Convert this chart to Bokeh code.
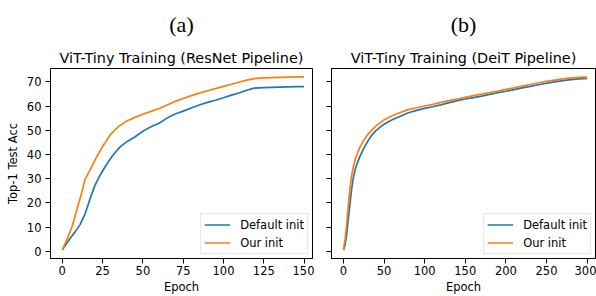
from bokeh.plotting import figure
from bokeh.models import Range1d, FixedTicker, Title, Legend, LegendItem
from bokeh.layouts import row
from bokeh.embed import file_html
from bokeh.resources import INLINE

panel_labels = ["(a)", "(b)"]
panel_titles = ["ViT-Tiny Training (ResNet Pipeline)", "ViT-Tiny Training (DeiT Pipeline)"]
series_names = ["Default init", "Our init"]
x_label = "Epoch"
y_label = "Top-1 Test Acc"
y_ticks = [0, 10, 20, 30, 40, 50, 60, 70]
resnet_x_ticks = [0, 25, 50, 75, 100, 125, 150]
deit_x_ticks = [0, 50, 100, 150, 200, 250, 300]

# (a) ResNet pipeline
resnet_default_epoch = [0, 3, 5, 8, 11, 14, 17, 20, 23, 26, 29, 32, 36, 40, 45, 50, 55, 60, 65,
                        70, 75, 80, 85, 90, 95, 100, 105, 110, 115, 119, 122, 125, 130, 135, 140, 145, 150]
resnet_default_acc = [0.5, 3.5, 5.5, 8.0, 11.0, 15.2, 21.2, 26.8, 30.8, 34.3, 37.4, 40.2, 43.2, 45.2, 47.2,
                      49.6, 51.4, 52.9, 55.0, 56.7, 57.9, 59.2, 60.4, 61.5, 62.4, 63.4, 64.5, 65.5, 66.6,
                      67.4, 67.5, 67.6, 67.7, 67.8, 67.9, 68.0, 68.0]
resnet_ours_epoch = [0, 3, 6, 9, 12, 14, 17, 20, 25, 30, 35, 40, 45, 50, 55, 60, 65, 70, 75, 80,
                     85, 90, 95, 100, 105, 110, 115, 120, 125, 130, 135, 140, 145, 150]
resnet_ours_acc = [0.5, 5.0, 10.0, 17.0, 24.0, 29.5, 33.3, 37.3, 43.3, 48.3, 51.6, 53.8, 55.3, 56.6,
                   57.8, 59.0, 60.4, 61.9, 63.1, 64.3, 65.3, 66.3, 67.2, 68.1, 69.0, 69.9, 70.8, 71.4,
                   71.6, 71.7, 71.8, 71.9, 72.0, 72.0]

# (b) DeiT pipeline
deit_default_epoch = [0, 2, 4, 6, 8, 10, 12, 15, 20, 25, 30, 35, 40, 50, 60, 70, 80, 90, 100, 110,
                      120, 130, 140, 150, 160, 170, 180, 190, 200, 210, 220, 230, 240, 250, 260, 270,
                      280, 290, 300]
deit_default_acc = [0.5, 2.5, 7.0, 13.5, 19.5, 25.5, 30.0, 34.5, 39.0, 42.5, 45.5, 48.0, 49.8, 52.5,
                    54.3, 55.8, 57.2, 58.2, 59.0, 59.7, 60.5, 61.4, 62.2, 62.9, 63.5, 64.1, 64.8, 65.5,
                    66.1, 66.8, 67.5, 68.1, 68.8, 69.4, 70.0, 70.5, 70.9, 71.2, 71.4]
deit_ours_epoch = [0, 2, 4, 6, 8, 10, 12, 15, 20, 25, 30, 40, 50, 60, 70, 80, 90, 100, 110, 120,
                   130, 140, 150, 160, 170, 180, 190, 200, 210, 220, 230, 240, 250, 260, 270, 280,
                   290, 300]
deit_ours_acc = [0.5, 5.0, 11.0, 19.0, 26.0, 31.0, 34.5, 38.5, 42.8, 45.8, 48.3, 51.8, 54.3, 56.0,
                 57.3, 58.5, 59.3, 60.0, 60.7, 61.5, 62.2, 62.9, 63.6, 64.3, 64.9, 65.6, 66.2, 66.9,
                 67.5, 68.2, 68.9, 69.6, 70.2, 70.7, 71.2, 71.6, 71.8, 72.0]

BLUE = "#1f77b4"
ORANGE = "#ff7f0e"
FONT = "DejaVu Sans"
Y_RANGE = (-3.0, 75.5)
FS = "11.5px"


def make_fig(width, left, right, xr, xticks, series, label, title, show_ylabels):
    p = figure(width=width, height=296, output_backend="svg", toolbar_location=None,
               x_range=Range1d(*xr), y_range=Range1d(*Y_RANGE),
               min_border_left=left, min_border_right=right, min_border_top=67, min_border_bottom=36)
    p.add_layout(Title(text=title, align="center", text_font=FONT, text_font_size="14.4px",
                       text_font_style="normal", text_color="black", standoff=5), "above")
    p.add_layout(Title(text=label, align="center", text_font="Liberation Serif", text_font_size="22px",
                       text_font_style="normal", text_color="black", standoff=18), "above")
    p.xgrid.visible = False
    p.ygrid.visible = False
    p.outline_line_color = "black"
    p.outline_line_width = 1
    p.background_fill_color = "white"
    p.border_fill_color = "white"
    for ax in (p.xaxis[0], p.yaxis[0]):
        ax.axis_line_color = "black"
        ax.major_tick_line_color = "black"
        ax.major_tick_out = 5
        ax.major_tick_in = 0
        ax.minor_tick_line_color = None
        ax.major_label_text_font = FONT
        ax.major_label_text_font_size = FS
        ax.major_label_text_color = "black"
        ax.axis_label_text_font = FONT
        ax.axis_label_text_font_size = FS
        ax.axis_label_text_font_style = "normal"
        ax.axis_label_text_color = "black"
    p.xaxis[0].major_label_standoff = 2
    p.xaxis[0].axis_label_standoff = 2
    p.yaxis[0].major_label_standoff = 4
    p.yaxis[0].axis_label_standoff = 4
    p.xaxis[0].ticker = FixedTicker(ticks=xticks)
    p.yaxis[0].ticker = FixedTicker(ticks=y_ticks)
    p.xaxis[0].axis_label = x_label
    if show_ylabels:
        p.yaxis[0].axis_label = y_label
    else:
        p.yaxis[0].major_label_overrides = {t: "" for t in y_ticks}
    items = []
    for (xs, ys, color), name in zip(series, series_names):
        r = p.line(xs, ys, line_color=color, line_width=1.7)
        items.append(LegendItem(label=name, renderers=[r]))
    leg = Legend(items=items, location="bottom_right", margin=4, padding=3, spacing=3,
                 glyph_width=26, glyph_height=15, label_height=15, label_standoff=10,
                 label_text_font=FONT, label_text_font_size=FS, label_text_color="black",
                 border_line_color="#cccccc", border_line_width=1,
                 background_fill_color="white", background_fill_alpha=0.8)
    p.add_layout(leg)
    return p


p1 = make_fig(314, 50, 2, (-7.3, 155.2), resnet_x_ticks,
              [(resnet_default_epoch, resnet_default_acc, BLUE), (resnet_ours_epoch, resnet_ours_acc, ORANGE)],
              panel_labels[0], panel_titles[0], True)
p2 = make_fig(282, 17, 1, (-14.7, 310.3), deit_x_ticks,
              [(deit_default_epoch, deit_default_acc, BLUE), (deit_ours_epoch, deit_ours_acc, ORANGE)],
              panel_labels[1], panel_titles[1], False)

layout = row(p1, p2, spacing=0)
open("out.html", "w").write(file_html(layout, INLINE))
